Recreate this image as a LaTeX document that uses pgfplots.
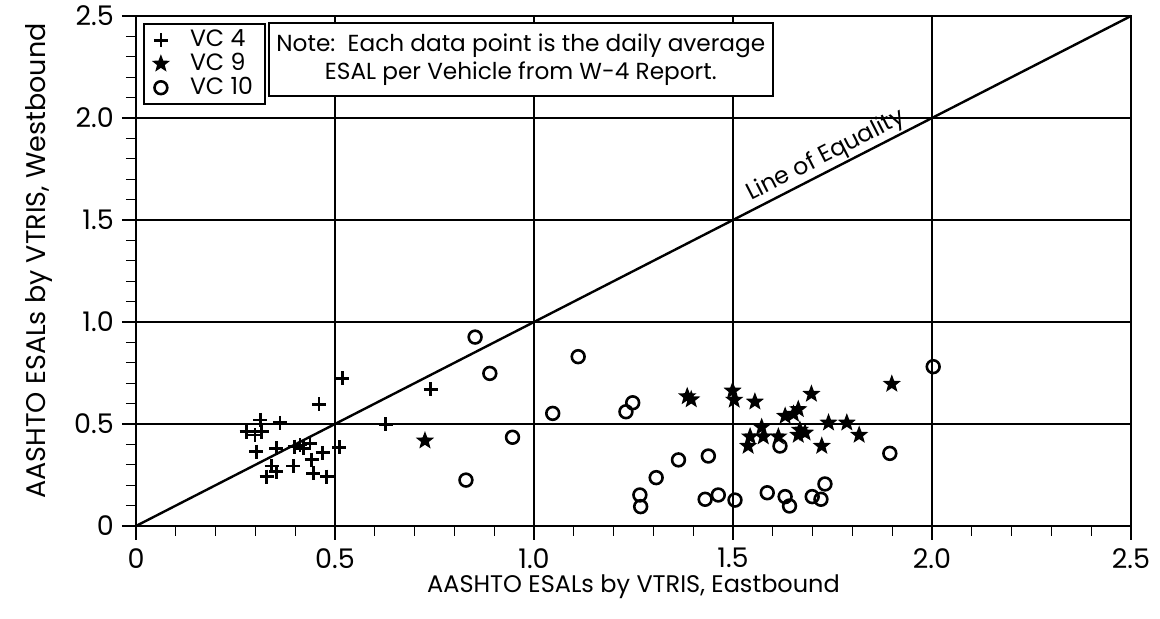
\documentclass[border=0pt]{standalone}
\usepackage{pgfplots}
\pgfplotsset{compat=1.18}
\usepackage{fontspec}
\setmainfont{Poppins}
\pgfdeclareplotmark{fstar}{%
  \pgfpathmoveto{\pgfpointpolar{90}{\pgfplotmarksize}}%
  \pgfpathlineto{\pgfpointpolar{126}{0.42\pgfplotmarksize}}%
  \pgfpathlineto{\pgfpointpolar{162}{\pgfplotmarksize}}%
  \pgfpathlineto{\pgfpointpolar{198}{0.42\pgfplotmarksize}}%
  \pgfpathlineto{\pgfpointpolar{234}{\pgfplotmarksize}}%
  \pgfpathlineto{\pgfpointpolar{270}{0.42\pgfplotmarksize}}%
  \pgfpathlineto{\pgfpointpolar{306}{\pgfplotmarksize}}%
  \pgfpathlineto{\pgfpointpolar{342}{0.42\pgfplotmarksize}}%
  \pgfpathlineto{\pgfpointpolar{18}{\pgfplotmarksize}}%
  \pgfpathlineto{\pgfpointpolar{54}{0.42\pgfplotmarksize}}%
  \pgfpathclose\pgfusepathqfill}
\begin{document}
\begin{tikzpicture}
\fontsize{11.8}{14}\selectfont
\useasboundingbox (0,0) rectangle (580pt,309.5pt);
\begin{axis}[
  at={(68pt,46.5pt)}, anchor=south west,
  scale only axis, width=497.5pt, height=255pt,
  xmin=0, xmax=2.5, ymin=0, ymax=2.5,
  xtick={0,0.5,1,1.5,2,2.5}, xticklabels={0,0.5,1.0,1.5,2.0,2.5},
  ytick={0,0.5,1,1.5,2,2.5}, yticklabels={0,0.5,1.0,1.5,2.0,2.5},
  minor tick num=4,
  tick align=outside, tick pos=left,
  major tick length=7pt, minor tick length=5pt,
  every tick/.style={black, line width=0.6pt},
  grid=major, major grid style={black, line width=0.6pt},
  axis line style={black, line width=1pt},
  ticklabel style={font=\fontsize{13.5}{16}\selectfont},
  /pgf/number format/assume math mode=true,
  xlabel={AASHTO ESALs by VTRIS, Eastbound},
  ylabel={AASHTO ESALs by VTRIS, Westbound},
  xlabel style={font=\fontsize{12}{14}\selectfont, yshift=5pt},
  ylabel style={font=\fontsize{13.5}{16}\selectfont, yshift=3pt, xshift=5pt},
  legend style={at={(0.007,0.986)}, anchor=north west, draw=black, line width=0.8pt,
    fill=white, font=\fontsize{11.8}{14}\selectfont, row sep=-2.5pt,
    inner xsep=4pt, inner ysep=1pt, legend cell align=left,
    /tikz/every odd column/.append style={column sep=8pt}},
  clip=false,
]
\addplot[only marks, mark=+, mark size=3.5pt, line width=1.4pt, black] coordinates {
(0.518,0.724)(0.460,0.597)(0.740,0.670)(0.627,0.498)(0.312,0.520)(0.362,0.506)
(0.278,0.462)(0.299,0.446)(0.316,0.462)(0.302,0.364)(0.353,0.381)(0.399,0.389)
(0.412,0.397)(0.437,0.405)(0.511,0.386)(0.469,0.359)(0.441,0.324)(0.395,0.294)
(0.341,0.294)(0.353,0.266)(0.328,0.242)(0.445,0.258)(0.479,0.242)(0.420,0.380)
};
\addlegendentry{VC 4}
\addplot[only marks, mark=fstar, mark size=4.8pt, black] coordinates {
(0.726,0.418)(1.385,0.635)(1.395,0.620)(1.499,0.663)(1.503,0.618)(1.555,0.609)
(1.697,0.647)(1.899,0.696)(1.631,0.539)(1.664,0.572)(1.652,0.549)(1.740,0.506)
(1.786,0.506)(1.817,0.446)(1.723,0.392)(1.572,0.484)(1.576,0.438)(1.543,0.438)
(1.538,0.392)(1.614,0.438)(1.668,0.471)(1.681,0.457)(1.664,0.446)
};
\addlegendentry{VC 9}
\addplot[only marks, mark=o, mark size=3.2pt, line width=1.3pt, black] coordinates {
(0.852,0.926)(0.889,0.748)(1.047,0.552)(0.946,0.435)(0.829,0.225)(1.111,0.830)
(1.248,0.604)(1.231,0.560)(1.363,0.324)(1.438,0.343)(1.307,0.237)(1.266,0.152)
(1.268,0.095)(1.430,0.131)(1.463,0.152)(1.505,0.127)(1.586,0.163)(1.631,0.144)
(1.642,0.098)(1.618,0.392)(1.699,0.144)(1.721,0.131)(1.731,0.206)(1.894,0.356)
(2.003,0.781)
};
\addlegendentry{VC 10}
\addplot[black, line width=1.2pt, forget plot] coordinates {(0,0)(2.5,2.5)};
\node[rotate=27.1, anchor=south, inner sep=1pt, font=\fontsize{11.8}{14}\selectfont] at (axis cs:1.75,1.75) {Line of Equality};
\node[draw=black, line width=0.8pt, fill=white, anchor=north west, align=center,
  minimum width=252pt, minimum height=36.5pt, inner sep=2pt,
  font=\fontsize{11.6}{14}\selectfont]
  at (rel axis cs:0.1327,0.988) {Note:\ \ Each data point is the daily average\\ESAL per Vehicle from W-4 Report.};
\end{axis}
\end{tikzpicture}
\end{document}
